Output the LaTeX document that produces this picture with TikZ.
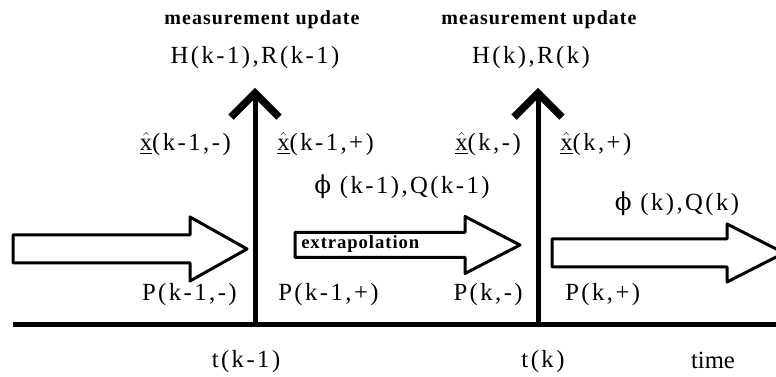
\documentclass[tikz,border=0pt]{standalone}
\usepackage{amsmath}
\usepackage{fontspec}
\setmainfont{Liberation Serif}
\newfontfamily\labfont[LetterSpace=10]{Liberation Serif}
\newfontfamily\notefont[LetterSpace=5]{Liberation Serif}
\newfontfamily\phifont{DejaVu Serif}
\usepackage{tikz}
\usetikzlibrary{arrows.meta}

\newcommand{\xest}{$\underline{\hat{\mathrm{x}}}$}
\newcommand{\phisym}{{\phifont ϕ}}

\begin{document}
\begin{tikzpicture}[x=0.75pt,y=-0.75pt,
  lab/.style={font=\labfont\fontsize{18.5}{21}\selectfont,inner sep=0pt},
  note/.style={font=\notefont\bfseries\fontsize{15}{17}\selectfont,inner sep=0pt},
  meas/.style={line width=3.75pt,-{Straight Barb[length=18pt,width=36pt,line width=5.5pt]}},
  fat/.style={line width=2.25pt,line join=round,fill=white}]
  \useasboundingbox (0,0) rectangle (776,377);
  \clip (0,0) rectangle (776,377);
  % time axis and update instants
  \coordinate (ax0) at (13,325);
  \coordinate (ax1) at (780,325);
  \coordinate (t1) at (255,325);
  \coordinate (t2) at (538,325);
  \coordinate (up1) at (255,88);
  \coordinate (up2) at (538,88);
  \draw[line width=3.75pt] (ax0) -- (ax1);
  \draw[meas] (t1) -- (up1);
  \draw[meas] (t2) -- (up2);
  % propagation arrows
  \foreach \xa/\xb/\xc/\yc/\hs/\hh in {13/190/247/249/14/32, 295/465/520/245/12.5/28.5, 552/727/784/253/14/29}
    {\draw[fat] (\xa,\yc-\hs) -- (\xb,\yc-\hs) -- (\xb,\yc-\hh) -- (\xc,\yc) -- (\xb,\yc+\hh) -- (\xb,\yc+\hs) -- (\xa,\yc+\hs) -- cycle;}
  \node[note,anchor=west,font=\notefont\bfseries\fontsize{14}{16}\selectfont] (extra) at (301,244) {extrapolation};
  % labels
  \node[note] (mu1) at (262,20) {measurement update};
  \node[note] (mu2) at (539,20) {measurement update};
  \node[lab] (hr1) at (255,58) {H(k-1),R(k-1)};
  \node[lab] (hr2) at (531,58) {H(k),R(k)};
  \node[lab,anchor=east] (xm1) at (231,144) {\xest(k-1,-)};
  \node[lab,anchor=west] (xp1) at (277,144) {\xest(k-1,+)};
  \node[lab,anchor=east] (xm2) at (521,144) {\xest(k,-)};
  \node[lab,anchor=west] (xp2) at (560,144) {\xest(k,+)};
  \node[lab] (pq1) at (402,187) {\phisym\ (k-1),Q(k-1)};
  \node[lab] (pq2) at (677,204) {\phisym\ (k),Q(k)};
  \node[lab,anchor=east] (pm1) at (237,295) {P(k-1,-)};
  \node[lab,anchor=west] (pp1) at (278,295) {P(k-1,+)};
  \node[lab,anchor=east] (pm2) at (523,295) {P(k,-)};
  \node[lab,anchor=west] (pp2) at (565,295) {P(k,+)};
  \node[lab] (tk1) at (246,362) {t(k-1)};
  \node[lab] (tk2) at (543,362) {t(k)};
  \node[lab,font=\fontsize{18.5}{21}\selectfont] (tlab) at (713,360) {time};
\end{tikzpicture}
\end{document}
